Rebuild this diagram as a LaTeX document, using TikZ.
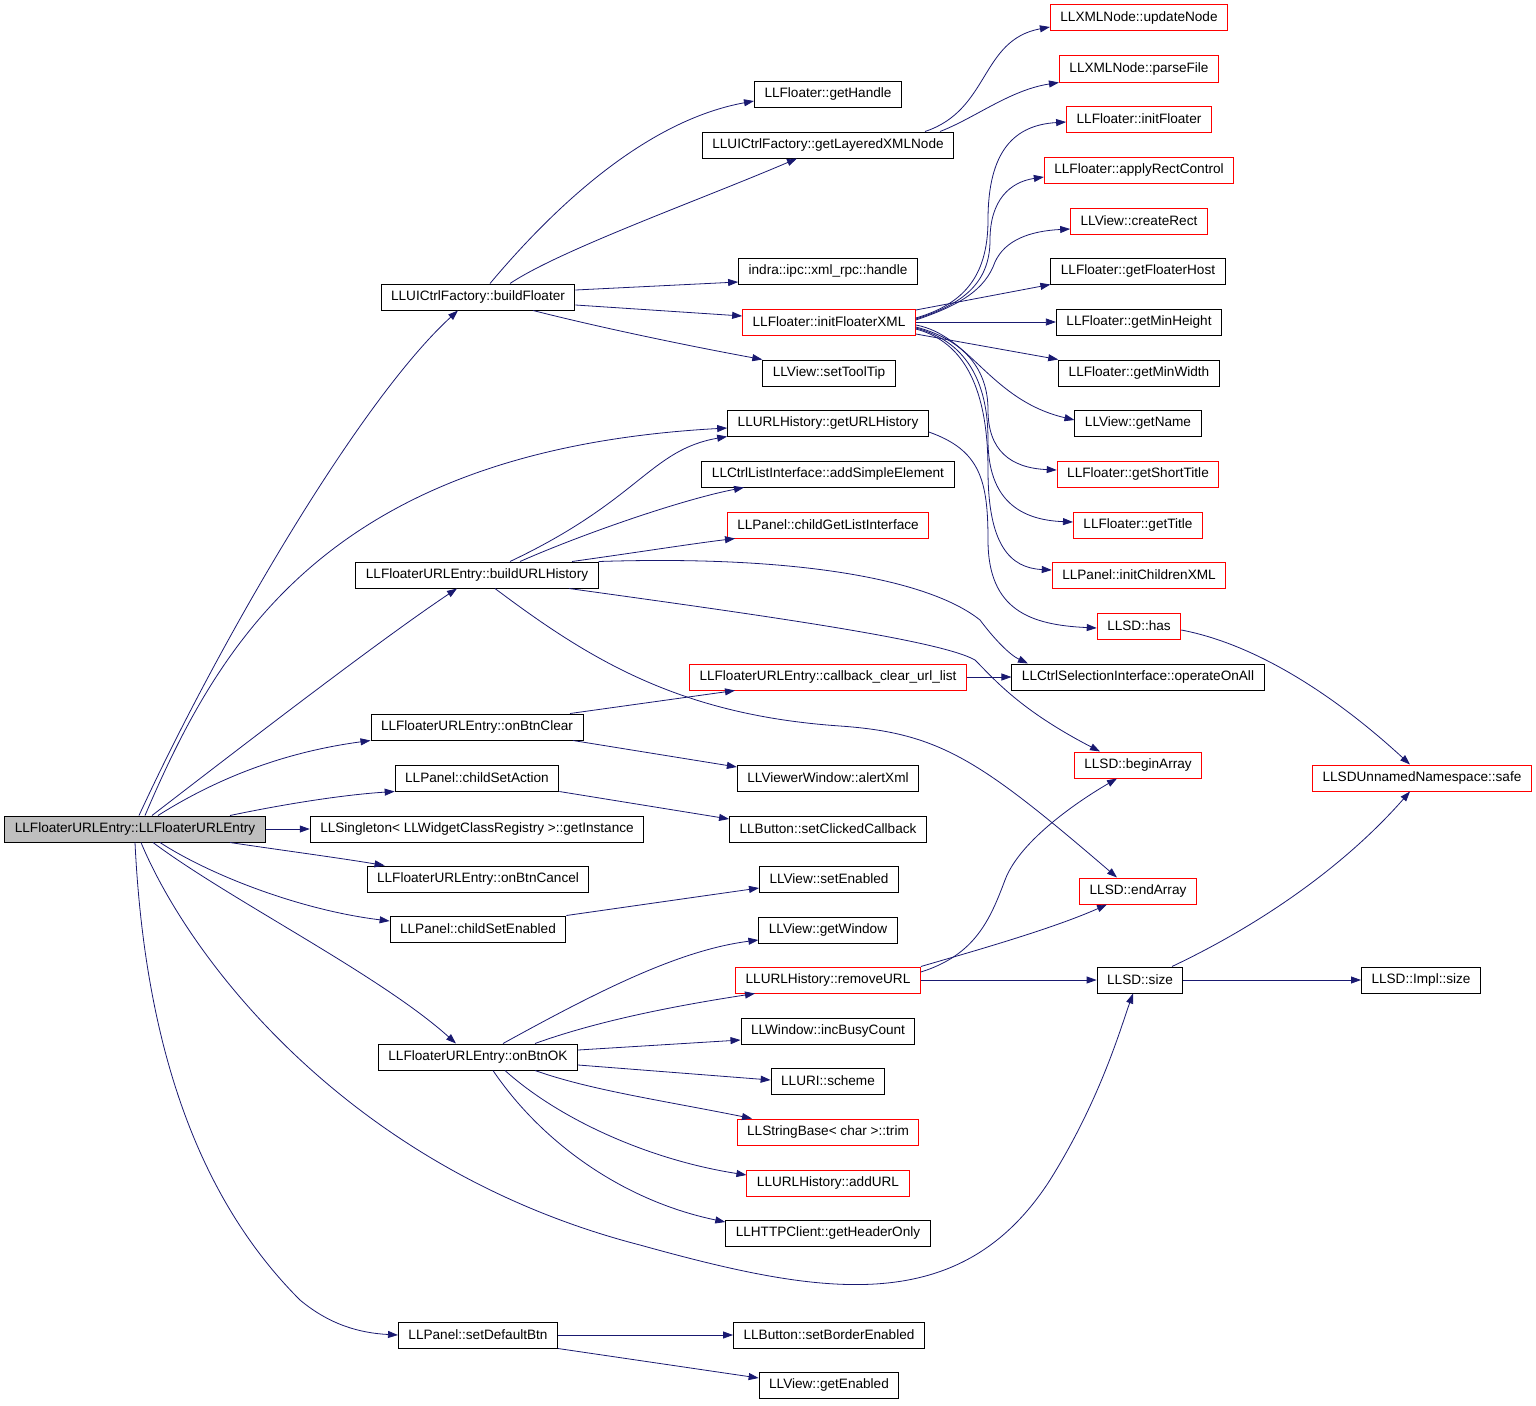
\documentclass[tikz,border=0pt]{standalone}
\usepackage{fontspec}
\setmainfont{Liberation Sans}
\usetikzlibrary{arrows.meta}
\definecolor{edgeblue}{HTML}{191970}
\begin{document}
\begin{tikzpicture}[x=1pt, y=-1pt, auto,
    fn/.style={rectangle, draw=black, fill=white, line width=1pt,
      minimum height=26pt, inner xsep=10pt, inner ysep=0pt,
      font=\fontsize{13.6}{16}\selectfont},
    fnred/.style={fn, draw=red},
    fnroot/.style={fn, fill=black!25},
    call/.style={draw=edgeblue, line width=0.8pt, -{Triangle[length=10pt,width=7pt]}}]
  \useasboundingbox (0,0) rectangle (1536,1405);
  % Place nodes
  \node [fnroot] (root) at (135,829) {LLFloaterURLEntry::LLFloaterURLEntry};
  % first level
  \node [fn] (bF)   at (478,297)  {LLUICtrlFactory::buildFloater};
  \node [fn] (bUH)  at (477,575)  {LLFloaterURLEntry::buildURLHistory};
  \node [fn] (oBC)  at (477,727)  {LLFloaterURLEntry::onBtnClear};
  \node [fn] (cSA)  at (477,778)  {LLPanel::childSetAction};
  \node [fn] (gI)   at (477,829)  {LLSingleton< LLWidgetClassRegistry >::getInstance};
  \node [fn] (oBCn) at (478,879)  {LLFloaterURLEntry::onBtnCancel};
  \node [fn] (cSE)  at (478,929)  {LLPanel::childSetEnabled};
  \node [fn] (oOK)  at (478,1057) {LLFloaterURLEntry::onBtnOK};
  \node [fn] (sDB)  at (478,1335) {LLPanel::setDefaultBtn};
  % second level
  \node [fn]    (gH)   at (828,94)   {LLFloater::getHandle};
  \node [fn]    (gLX)  at (828,145)  {LLUICtrlFactory::getLayeredXMLNode};
  \node [fn]    (xr)   at (828,271)  {indra::ipc::xml\_rpc::handle};
  \node [fnred] (iFX)  at (829,322)  {LLFloater::initFloaterXML};
  \node [fn]    (sTT)  at (829,373)  {LLView::setToolTip};
  \node [fn]    (gUH)  at (828,423)  {LLURLHistory::getURLHistory};
  \node [fn]    (aSE)  at (828,474)  {LLCtrlListInterface::addSimpleElement};
  \node [fnred] (cGLI) at (828,525)  {LLPanel::childGetListInterface};
  \node [fnred] (cb)   at (828,677)  {LLFloaterURLEntry::callback\_clear\_url\_list};
  \node [fn]    (aX)   at (828,778)  {LLViewerWindow::alertXml};
  \node [fn]    (sCC)  at (828,829)  {LLButton::setClickedCallback};
  \node [fn]    (sE)   at (829,879)  {LLView::setEnabled};
  \node [fn]    (gW)   at (828,930)  {LLView::getWindow};
  \node [fnred] (rU)   at (828,980)  {LLURLHistory::removeURL};
  \node [fn]    (iBC)  at (828,1031) {LLWindow::incBusyCount};
  \node [fn]    (sch)  at (828,1081) {LLURI::scheme};
  \node [fnred] (trim) at (828,1132) {LLStringBase< char >::trim};
  \node [fnred] (aU)   at (828,1183) {LLURLHistory::addURL};
  \node [fn]    (gHO)  at (828,1233) {LLHTTPClient::getHeaderOnly};
  \node [fn]    (sBE)  at (829,1335) {LLButton::setBorderEnabled};
  \node [fn]    (gE)   at (829,1385) {LLView::getEnabled};
  % third level
  \node [fnred] (uN)   at (1139,18)  {LLXMLNode::updateNode};
  \node [fnred] (pF)   at (1139,69)  {LLXMLNode::parseFile};
  \node [fnred] (iF)   at (1139,119) {LLFloater::initFloater};
  \node [fnred] (aRC)  at (1139,170) {LLFloater::applyRectControl};
  \node [fnred] (cR)   at (1139,221) {LLView::createRect};
  \node [fn]    (gFH)  at (1138,271) {LLFloater::getFloaterHost};
  \node [fn]    (gMH)  at (1139,322) {LLFloater::getMinHeight};
  \node [fn]    (gMW)  at (1139,373) {LLFloater::getMinWidth};
  \node [fn]    (gN)   at (1138,423) {LLView::getName};
  \node [fnred] (gST)  at (1138,474) {LLFloater::getShortTitle};
  \node [fnred] (gT)   at (1138,525) {LLFloater::getTitle};
  \node [fnred] (iCX)  at (1139,575) {LLPanel::initChildrenXML};
  \node [fnred] (has)  at (1139,626) {LLSD::has};
  \node [fn]    (oOA)  at (1138,677) {LLCtrlSelectionInterface::operateOnAll};
  \node [fnred] (bA)   at (1138,765) {LLSD::beginArray};
  \node [fnred] (eA)   at (1138,891) {LLSD::endArray};
  \node [fn]    (size) at (1140,980) {LLSD::size};
  % fourth level
  \node [fnred] (safe) at (1422,778) {LLSDUnnamedNamespace::safe};
  \node [fn]    (iS)   at (1421,980) {LLSD::Impl::size};
  % Draw edges
  % from the constructor
  \draw [call] ([xshift=4]root.north) .. controls (220,640) and (360,400) .. ([xshift=-20]bF.south);
  \draw [call] ([xshift=10]root.north) .. controls (220,640) and (330,450) .. ([yshift=-5]gUH.west);
  \draw [call] ([xshift=17]root.north) .. controls (250,740) and (380,640) .. ([xshift=-20]bUH.south);
  \draw [call] ([xshift=23]root.north) .. controls (230,770) and (300,750) .. (oBC.south west);
  \draw [call] ([xshift=95]root.north) .. controls (280,805) and (340,795) .. (cSA.south west);
  \draw [call] (root.east) -- (gI.west);
  \draw [call] ([xshift=95]root.south) .. controls (280,850) and (340,858) .. ([xshift=18]oBCn.north west);
  \draw [call] ([xshift=25]root.south) .. controls (210,875) and (300,910) .. ([yshift=8]cSE.west);
  \draw [call] ([xshift=18]root.south) .. controls (230,900) and (380,975) .. ([xshift=-22]oOK.north);
  \draw [call] ([xshift=6]root.south) .. controls (190,960) and (350,1170) .. (640,1245)
    .. controls (820,1295) and (960,1320) .. (1050,1180)
    .. controls (1100,1100) and (1120,1030) .. ([xshift=-7]size.south);
  \draw [call] (root.south) .. controls (145,1050) and (200,1200) .. (300,1300)
    .. controls (330,1325) and (360,1333) .. (sDB.west);
  % buildFloater
  \draw [call] ([xshift=12]bF.north) .. controls (560,200) and (650,120) .. ([yshift=-7]gH.west);
  \draw [call] ([xshift=32]bF.north) .. controls (560,250) and (700,200) .. ([xshift=-31]gLX.south);
  \draw [call] ([yshift=7]bF.east) -- ([yshift=-11]xr.west);
  \draw [call] ([yshift=-8]bF.east) -- ([yshift=6]iFX.west);
  \draw [call] ([xshift=55]bF.south) .. controls (610,330) and (700,348) .. (sTT.north west);
  \draw [call] ([xshift=97]gLX.north) .. controls (990,110) and (980,40) .. ([yshift=-9]uN.west);
  \draw [call] ([xshift=112]gLX.north) .. controls (975,118) and (1010,90) .. (pF.south west);
  % initFloaterXML
  \draw [call] ([yshift=4]iFX.east) .. controls (960,305) and (988,280) .. (988,220)
    .. controls (988,150) and (1015,125) .. ([yshift=-3]iF.west);
  \draw [call] ([yshift=3]iFX.east) .. controls (960,305) and (990,285) .. (990,240)
    .. controls (990,200) and (1010,182) .. ([yshift=-7]aRC.west);
  \draw [call] ([yshift=2]iFX.east) .. controls (960,305) and (985,290) .. (995,262)
    .. controls (1005,240) and (1030,231) .. ([yshift=-8]cR.west);
  \draw [call] ([yshift=12]iFX.east) -- (gFH.south west);
  \draw [call] (iFX.east) -- (gMH.west);
  \draw [call] ([yshift=-12]iFX.east) -- (gMW.north west);
  \draw [call] ([yshift=-3]iFX.east) .. controls (970,335) and (990,400) .. ([yshift=3]gN.west);
  \draw [call] ([yshift=-5]iFX.east) .. controls (965,340) and (988,370) .. (988,410)
    .. controls (988,450) and (1010,468) .. ([yshift=4]gST.west);
  \draw [call] ([yshift=-6]iFX.east) .. controls (965,341) and (988,380) .. (988,440)
    .. controls (988,500) and (1020,520) .. ([yshift=3]gT.west);
  \draw [call] ([yshift=-7]iFX.east) .. controls (965,342) and (988,390) .. (988,470)
    .. controls (988,545) and (1010,568) .. ([yshift=5]iCX.west);
  % getURLHistory, has, size
  \draw [call] ([yshift=-9]gUH.east) .. controls (980,450) and (988,480) .. (988,540)
    .. controls (988,610) and (1030,625) .. ([yshift=-2]has.west);
  \draw [call] ([yshift=-4]has.east) .. controls (1260,645) and (1340,700) .. ([xshift=-12]safe.north);
  \draw [call] ([xshift=32]size.north) .. controls (1270,920) and (1350,860) .. ([xshift=-12]safe.south);
  \draw [call] (size.east) -- (iS.west);
  \draw [call] (rU.east) -- (size.west);
  \draw [call] ([yshift=8]rU.east) .. controls (975,955) and (990,920) .. (1005,880)
    .. controls (1020,840) and (1080,800) .. ([xshift=-21]bA.south);
  \draw [call] (rU.north east) .. controls (960,955) and (1050,930) .. ([xshift=-31]eA.south);
  % buildURLHistory
  \draw [call] ([xshift=33]bUH.north) .. controls (640,500) and (650,450) .. (gUH.south west);
  \draw [call] ([xshift=43]bUH.north) .. controls (580,535) and (680,500) .. ([xshift=-84]aSE.south);
  \draw [call] ([xshift=95]bUH.north) .. controls (640,552) and (690,544) .. ([xshift=-93]cGLI.south);
  \draw [call] (bUH.north east) .. controls (800,555) and (930,580) .. (980,620)
    .. controls (995,640) and (1010,655) .. ([xshift=-110]oOA.north);
  \draw [call] ([xshift=92]bUH.south) .. controls (760,615) and (940,640) .. (975,660)
    .. controls (995,680) and (1020,710) .. ([xshift=-38]bA.north);
  \draw [call] ([xshift=18]bUH.south) .. controls (590,660) and (680,715) .. (840,726)
    .. controls (940,733) and (980,760) .. ([xshift=-21]eA.north);
  % onBtnClear, childSetAction, childSetEnabled
  \draw [call] ([xshift=93]oBC.north) -- ([xshift=-93]cb.south);
  \draw [call] (cb.east) -- (oOA.west);
  \draw [call] ([xshift=96]oBC.south) -- ([yshift=11]aX.west);
  \draw [call] (cSA.south east) -- ([yshift=10]sCC.west);
  \draw [call] (cSE.north east) -- ([yshift=-9]sE.west);
  % onBtnOK
  \draw [call] ([xshift=25]oOK.north) .. controls (600,990) and (680,950) .. ([yshift=-10]gW.west);
  \draw [call] ([xshift=57]oOK.north) .. controls (600,1020) and (680,1005) .. ([xshift=-73]rU.south);
  \draw [call] ([yshift=7]oOK.east) -- ([yshift=-9]iBC.west);
  \draw [call] ([yshift=-8]oOK.east) -- ([yshift=1]sch.west);
  \draw [call] ([xshift=57]oOK.south) .. controls (590,1090) and (660,1100) .. ([xshift=-76]trim.north);
  \draw [call] ([xshift=27]oOK.south) .. controls (560,1120) and (650,1160) .. ([yshift=8]aU.west);
  \draw [call] ([xshift=15]oOK.south) .. controls (540,1140) and (620,1200) .. ([yshift=11]gHO.west);
  % setDefaultBtn
  \draw [call] (sDB.east) -- (sBE.west);
  \draw [call] (sDB.south east) -- ([yshift=7]gE.west);
\end{tikzpicture}
\end{document}
